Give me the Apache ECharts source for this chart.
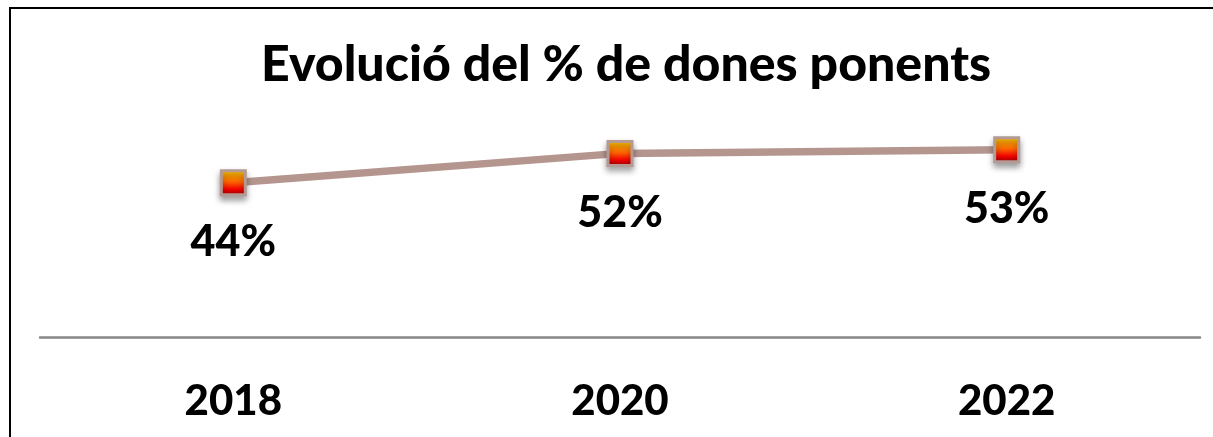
<!DOCTYPE html>
<html>
<head>
<meta charset="utf-8">
<script src="https://cdn.jsdelivr.net/npm/echarts@6/dist/echarts.min.js"></script>
<style>
html, body { margin: 0; padding: 0; background: #fff; }
#main { width: 1213px; height: 437px; }
</style>
</head>
<body>
<div id="main"></div>
<script>
var titleText = 'Evolució del % de dones ponents';
var years = ['2018', '2020', '2022'];
var percents = [44, 52, 53];

var chart = echarts.init(document.getElementById('main'));

var option = {
  backgroundColor: '#fff',
  textStyle: { fontFamily: 'Lato', fontWeight: 'bold', color: '#000' },
  title: {
    text: titleText,
    left: 256,
    top: 35,
    textStyle: { fontFamily: 'Lato', fontSize: 50, fontWeight: 900, color: '#000' }
  },
  // frame: left and top edges only
  graphic: [{
    type: 'polyline',
    shape: { points: [[10, 450], [10, 8], [1230, 8]] },
    style: { stroke: '#000', lineWidth: 2, fill: null },
    silent: true
  }],
  grid: { left: 40, right: 13, top: 124, bottom: 100 },
  xAxis: {
    type: 'category',
    data: years,
    boundaryGap: true,
    axisLine: { show: true, lineStyle: { color: '#878787', width: 2.5 } },
    axisTick: { show: false },
    axisLabel: { fontFamily: 'Lato', fontSize: 42, fontWeight: 900, color: '#000', margin: 43 }
  },
  yAxis: {
    type: 'value',
    min: 2,
    max: 60,
    show: false,
    splitLine: { show: false }
  },
  series: [{
    type: 'line',
    data: percents,
    symbol: 'rect',
    symbolSize: 24,
    lineStyle: { color: '#b4968f', width: 7.5 },
    itemStyle: {
      color: new echarts.graphic.LinearGradient(0, 0, 0, 1, [
        { offset: 0, color: '#ffd800' },
        { offset: 0.45, color: '#ff6a00' },
        { offset: 0.75, color: '#f00000' },
        { offset: 1, color: '#8c0000' }
      ]),
      borderColor: '#b39a94',
      borderWidth: 3,
      shadowColor: 'rgba(0,0,0,0.35)',
      shadowBlur: 6,
      shadowOffsetY: 4
    },
    label: {
      show: true,
      position: 'bottom',
      distance: 26,
      formatter: '{c}%',
      fontFamily: 'Lato',
      fontSize: 43,
      fontWeight: 900,
      lineHeight: 40,
      color: '#000'
    },
    emphasis: { disabled: true },
    animation: false
  }]
};

chart.setOption(option);
</script>
</body>
</html>
